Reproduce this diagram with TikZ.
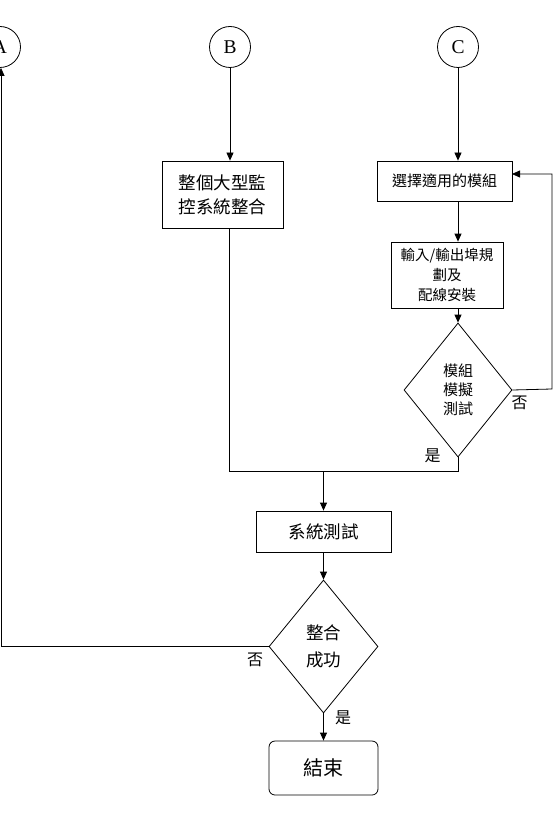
\documentclass[tikz,border=0pt]{standalone}
\usepackage{fontspec}
\setmainfont{Noto Sans CJK TC}
\newfontfamily\latfont{Liberation Serif}
\usetikzlibrary{arrows.meta,shapes.geometric}
\begin{document}
\begin{tikzpicture}[x=1pt,y=-1pt,line width=0.8pt,
  arr/.style={-{Triangle[length=8pt,width=7pt]}},
  conncircle/.style={draw,circle,minimum size=41pt,inner sep=0pt,font=\latfont\fontsize{19.5}{19.5}\selectfont},
  proc/.style={draw,rectangle,inner sep=0pt,align=center},
  dec/.style={draw,diamond,inner sep=0pt,align=center},
  lbl/.style={inner sep=0pt,font=\fontsize{16}{16}\selectfont}
]
\useasboundingbox[fill=white] (0,0) rectangle (558,826);

\node[conncircle] (A) at (0,47) {A};
\node[conncircle] (B) at (230,47) {B};
\node[conncircle] (C) at (458,47) {C};

\node[proc,minimum width=121pt,minimum height=67pt,font=\fontsize{17.5}{24}\selectfont] (integ) at (222.5,194.5) {整個大型監\\控系統整合};
\node[proc,minimum width=135pt,minimum height=40pt,font=\fontsize{15}{18}\selectfont] (sel) at (444.5,181) {選擇適用的模組};
\node[proc,minimum width=112pt,minimum height=66pt,font=\fontsize{14.5}{20}\selectfont] (io) at (447,275) {輸入/輸出埠規\\劃及\\配線安裝};
\node[dec,minimum width=108pt,minimum height=134pt,font=\fontsize{15}{19}\selectfont] (sim) at (458,390) {模組\\模擬\\測試};
\node[proc,minimum width=135pt,minimum height=41pt,font=\fontsize{17.5}{20}\selectfont] (test) at (323.5,531.5) {系統測試};
\node[dec,minimum width=109pt,minimum height=133pt,font=\fontsize{17.5}{27}\selectfont] (ok) at (323.5,646.5) {整合\\成功};
\node[proc,rounded corners=6pt,minimum width=109pt,minimum height=54pt,font=\fontsize{20}{20}\selectfont] (end) at (323.5,768) {結束};

\node[lbl] (no1) at (519.5,403) {否};
\node[lbl] (yes1) at (432.5,455.5) {是};
\node[lbl] (no2) at (255,659.5) {否};
\node[lbl] (yes2) at (343,718) {是};

\coordinate (fbR) at (552,389);
\coordinate (fbT) at (552,174);
\coordinate (selIn) at (512,174);
\coordinate (mergeR) at (458,471);
\coordinate (mergeL) at (229,471);
\coordinate (mergeM) at (323.5,471);
\coordinate (backL) at (1,646.5);

\draw[arr] (B.south) -- (B.south |- integ.north);
\draw[arr] (C.south) -- (C.south |- sel.north);
\draw[arr] (sel.south -| sim.north) -- (io.north -| sim.north);
\draw[arr] (io.south -| sim.north) -- (sim.north);
\draw[arr] (sim.east) -- (fbR) -- (fbT) -- (selIn);
\draw (sim.south) -- (mergeR) -- (mergeL) -- (mergeL |- integ.south);
\draw[arr] (mergeM) -- (test.north);
\draw[arr] (test.south) -- (ok.north);
\draw[arr] (ok.west) -- (backL) -- (backL |- A.south);
\draw[arr] (ok.south) -- (end.north);
\end{tikzpicture}
\end{document}
